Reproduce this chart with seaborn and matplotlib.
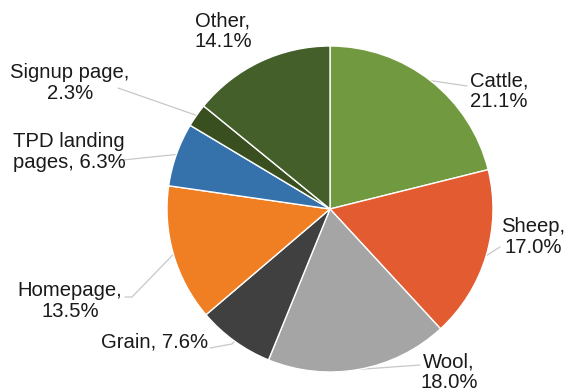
import matplotlib
matplotlib.use("Agg")
import matplotlib.pyplot as plt
import seaborn as sns
import numpy as np

sns.set_theme(style="white")
plt.rcParams['font.family'] = ['Liberation Sans', 'DejaVu Sans']

categories = ["Cattle", "Sheep", "Wool", "Grain", "Homepage",
              "TPD landing\npages", "Signup page", "Other"]
shares = [21.1, 17.0, 18.0, 7.6, 13.5, 6.3, 2.3, 14.1]
label_text = ["Cattle,\n21.1%", "Sheep,\n17.0%", "Wool,\n18.0%", "Grain, 7.6%",
              "Homepage,\n13.5%", "TPD landing\npages, 6.3%", "Signup page,\n2.3%",
              "Other,\n14.1%"]
colors = ["#71993f", "#e35b31", "#a5a5a5", "#404040", "#f07f24",
          "#3572ab", "#3a4f20", "#445f29"]

W, H = 566, 391
CX, CY, R = 330, 209, 163

# label centres and leader-line end points, in pixels
label_pos = [(499, 91), (533, 237), (449, 372), (155, 342), (70, 301),
             (69, 152), (70, 83), (223, 31)]
leader_end = [(467, 86), (500, 247), (420, 365), (210, 348), (125, 297),
              (123, 160), (118, 88), None]
leader_knee = [None, None, None, (232, 344), (132, 297), None, None, None]


def to_data(p):
    return ((p[0] - CX) / R, (CY - p[1]) / R)


fig = plt.figure(figsize=(W / 100, H / 100), dpi=100)
ax = fig.add_axes([(CX - R) / W, (H - CY - R) / H, 2 * R / W, 2 * R / H])
wedges, _ = ax.pie(shares, colors=colors, startangle=90, counterclock=False,
                   radius=1.0,
                   wedgeprops=dict(edgecolor="white", linewidth=1.0))
ax.set_xlim(-1, 1)
ax.set_ylim(-1, 1)
ax.set_aspect("equal")
ax.axis("off")

for w, txt, pos, end, knee in zip(wedges, label_text, label_pos, leader_end, leader_knee):
    mid = np.deg2rad((w.theta1 + w.theta2) / 2)
    edge = (np.cos(mid), np.sin(mid))
    if end is not None:
        pts = [edge]
        if knee is not None:
            pts.append(to_data(knee))
        pts.append(to_data(end))
        xs, ys = zip(*pts)
        ax.plot(xs, ys, color="#c8c8c8", lw=0.9, clip_on=False, zorder=0)
    tx, ty = to_data(pos)
    ax.text(tx, ty, txt, ha="center", va="center", multialignment="center",
            fontsize=14.6, color="#1a1a1a", linespacing=1.08, clip_on=False)

fig.savefig("out.png", dpi=100, facecolor="white")
